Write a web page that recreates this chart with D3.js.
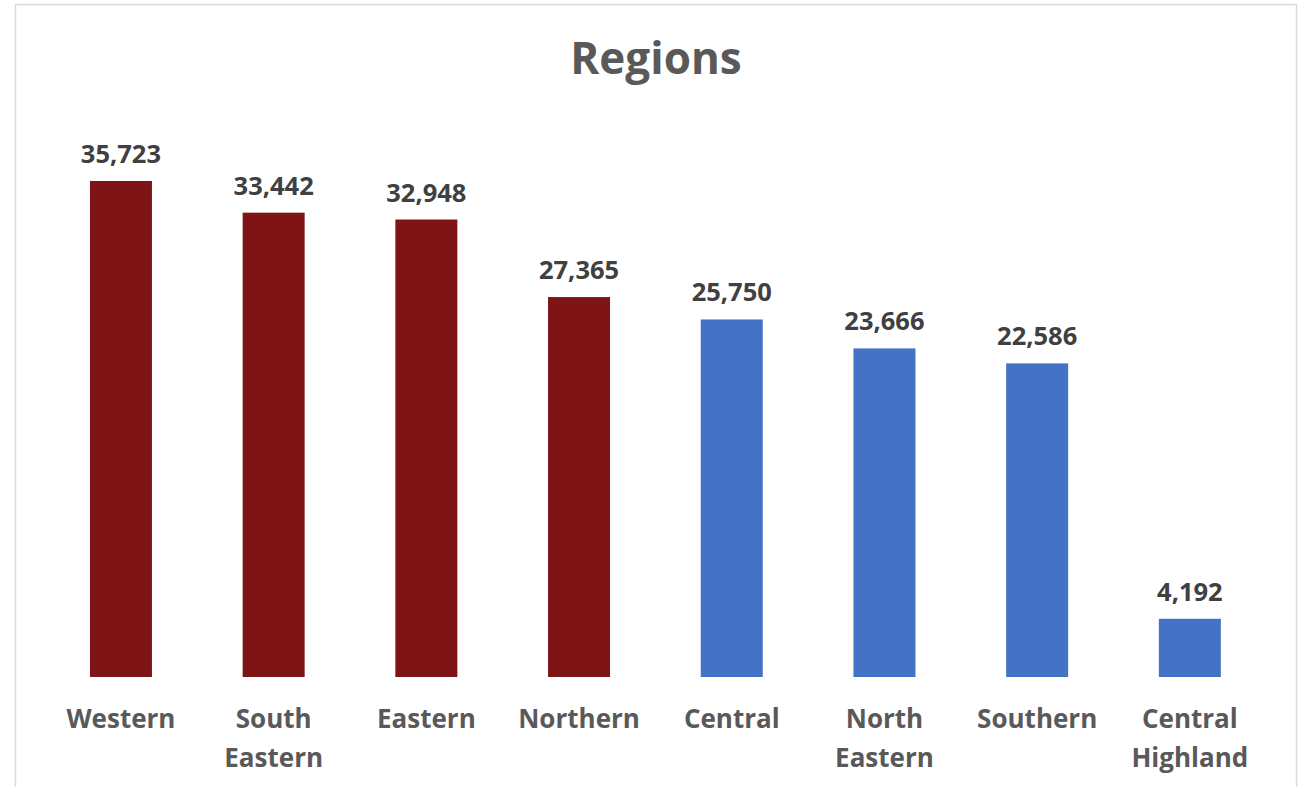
<!DOCTYPE html>
<html>
<head>
<meta charset="utf-8">
<script src="https://cdn.jsdelivr.net/npm/d3@7"></script>
<style>
  html, body { margin: 0; padding: 0; background: #fff; }
  svg { display: block; font-family: "Open Sans", "Noto Sans", sans-serif; }
</style>
</head>
<body>
<svg id="chart" width="1304" height="787"></svg>
<script>
// Regions and their totals
const categories = [["Western"], ["South", "Eastern"], ["Eastern"], ["Northern"], ["Central"], ["North", "Eastern"], ["Southern"], ["Central", "Highland"]];
const values = [35723, 33442, 32948, 27365, 25750, 23666, 22586, 4192];
const groups = ["top", "top", "top", "top", "rest", "rest", "rest", "rest"];
const title = "Regions";

const colors = { top: "#7F1416", rest: "#4472C4" };

const svg = d3.select("#chart");

// outer chart frame
svg.append("rect")
  .attr("x", 15.5).attr("y", 4.5)
  .attr("width", 1281).attr("height", 820)
  .attr("fill", "#fff")
  .attr("stroke", "#d9d9d9")
  .attr("stroke-width", 1.5);

const keys = categories.map(c => c.join(" "));
const x = d3.scaleBand()
  .domain(keys)
  .range([44.6, 1266.2])
  .paddingInner(0.594)
  .paddingOuter(0.297);

const y = d3.scaleLinear()
  .domain([0, 40000])
  .range([677, 677 - 496 * 40000 / 35723]);

svg.append("text")
  .attr("x", 656).attr("y", 74)
  .attr("text-anchor", "middle")
  .attr("font-size", 44)
  .attr("font-weight", 700)
  .attr("fill", "#595959")
  .text(title);

const data = keys.map((k, i) => ({ key: k, lines: categories[i], value: values[i], group: groups[i] }));

svg.append("g").selectAll("rect")
  .data(data)
  .join("rect")
  .attr("x", d => x(d.key))
  .attr("y", d => y(d.value))
  .attr("width", x.bandwidth())
  .attr("height", d => y(0) - y(d.value))
  .attr("fill", d => colors[d.group]);

const fmt = d3.format(",");
svg.append("g").selectAll("text")
  .data(data)
  .join("text")
  .attr("x", d => x(d.key) + x.bandwidth() / 2)
  .attr("y", d => y(d.value) - 18)
  .attr("text-anchor", "middle")
  .attr("font-size", 25.5)
  .attr("font-weight", 700)
  .attr("fill", "#404040")
  .text(d => fmt(d.value));

// category axis labels (no axis line or ticks)
const xAxis = d3.axisBottom(x).tickSize(0).tickFormat(() => "");
const axisG = svg.append("g")
  .attr("transform", `translate(0,${y(0)})`)
  .call(xAxis);
axisG.select(".domain").remove();

axisG.selectAll(".tick").each(function(k, i) {
  const t = d3.select(this).select("text")
    .attr("y", 0).attr("dy", null)
    .attr("font-size", 26)
    .attr("font-weight", 700)
    .attr("font-family", "\"Open Sans\", \"Noto Sans\", sans-serif")
    .attr("fill", "#595959")
    .attr("text-anchor", "middle");
  data[i].lines.forEach((line, j) => {
    t.append("tspan").attr("x", 0).attr("y", 51 + j * 38.5).text(line);
  });
});
</script>
</body>
</html>
